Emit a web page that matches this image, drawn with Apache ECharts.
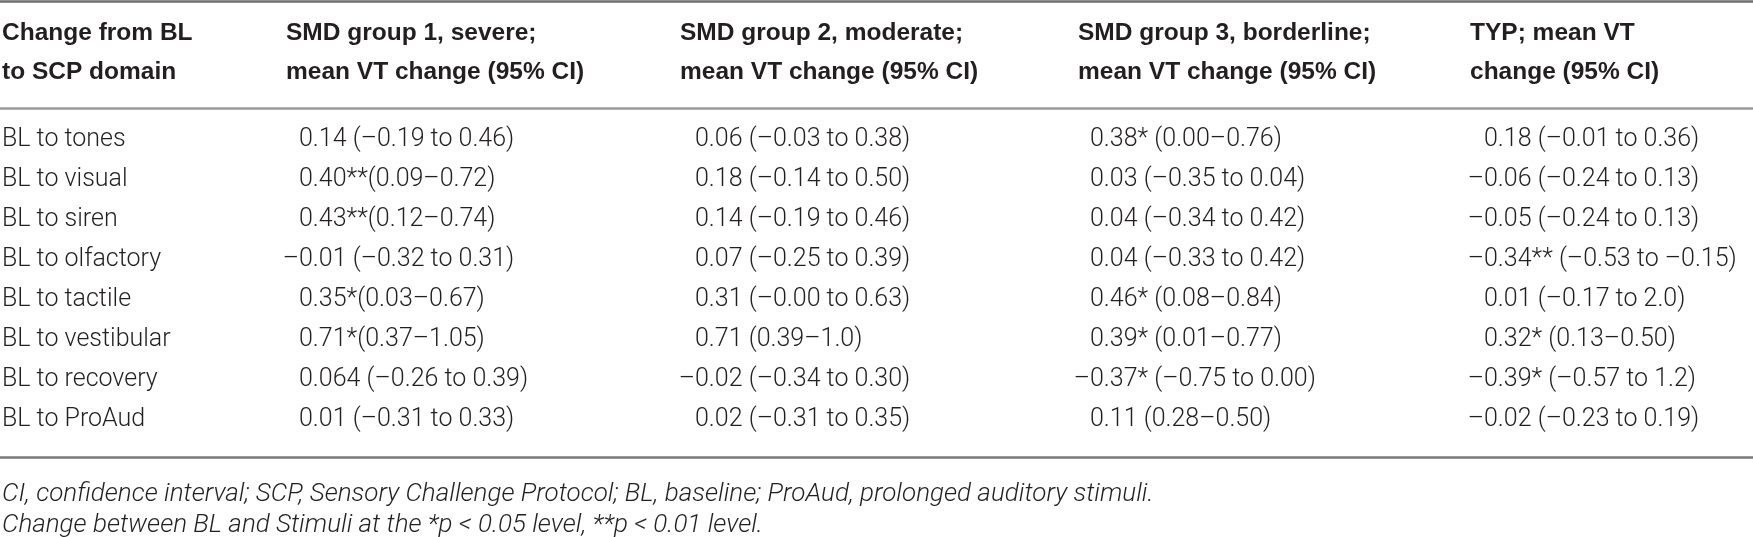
<!DOCTYPE html>
<html>
<head>
<meta charset="utf-8">
<script src="https://cdn.jsdelivr.net/npm/echarts@6/dist/echarts.min.js"></script>
<style>
html, body { margin: 0; padding: 0; background: #fff; }
#main { width: 1753px; height: 537px; }
</style>
</head>
<body>
<div id="main"></div>
<script>
// table content
var headers = [
    ['Change from BL', 'to SCP domain'],
    ['SMD group 1, severe;', 'mean VT change (95% CI)'],
    ['SMD group 2, moderate;', 'mean VT change (95% CI)'],
    ['SMD group 3, borderline;', 'mean VT change (95% CI)'],
    ['TYP; mean VT', 'change (95% CI)']
];
var domains = ['BL to tones', 'BL to visual', 'BL to siren', 'BL to olfactory',
    'BL to tactile', 'BL to vestibular', 'BL to recovery', 'BL to ProAud'];
var group1 = ['0.14 (–0.19 to 0.46)', '0.40**(0.09–0.72)', '0.43**(0.12–0.74)', '–0.01 (–0.32 to 0.31)',
    '0.35*(0.03–0.67)', '0.71*(0.37–1.05)', '0.064 (–0.26 to 0.39)', '0.01 (–0.31 to 0.33)'];
var group2 = ['0.06 (–0.03 to 0.38)', '0.18 (–0.14 to 0.50)', '0.14 (–0.19 to 0.46)', '0.07 (–0.25 to 0.39)',
    '0.31 (–0.00 to 0.63)', '0.71 (0.39–1.0)', '–0.02 (–0.34 to 0.30)', '0.02 (–0.31 to 0.35)'];
var group3 = ['0.38* (0.00–0.76)', '0.03 (–0.35 to 0.04)', '0.04 (–0.34 to 0.42)', '0.04 (–0.33 to 0.42)',
    '0.46* (0.08–0.84)', '0.39* (0.01–0.77)', '–0.37* (–0.75 to 0.00)', '0.11 (0.28–0.50)'];
var typ = ['0.18 (–0.01 to 0.36)', '–0.06 (–0.24 to 0.13)', '–0.05 (–0.24 to 0.13)', '–0.34** (–0.53 to –0.15)',
    '0.01 (–0.17 to 2.0)', '0.32* (0.13–0.50)', '–0.39* (–0.57 to 1.2)', '–0.02 (–0.23 to 0.19)'];
var notes = [
    'CI, confidence interval; SCP, Sensory Challenge Protocol; BL, baseline; ProAud, prolonged auditory stimuli.',
    'Change between BL and Stimuli at the *p < 0.05 level, **p < 0.01 level.'
];

// layout (pixels)
var W = 1753, H = 537;
var headX = [2, 286, 680, 1078, 1470];
var cellX = [2, 299, 695, 1090, 1484];
var headY = [33, 72];
var rowY0 = 140, rowGap = 39.9;
var noteY = [494, 525];
var rules = [{ y: 1.5, color: '#6e6e6e' }, { y: 108.5, color: '#9a9a9a' }, { y: 457, color: '#7a7a7a' }];

var headFont = 'bold 24.5px "Liberation Sans", Arial, sans-serif';
var bodyFont = '300 25px Roboto, "Liberation Sans", sans-serif';
var noteFont = 'italic 300 26px Roboto, "Liberation Sans", sans-serif';

var ctx = document.createElement('canvas').getContext('2d');
ctx.font = bodyFont;
var dashW = ctx.measureText('–').width;

var cells = [];
for (var c = 0; c < headers.length; c++) {
    for (var l = 0; l < 2; l++) {
        cells.push({ x: headX[c], y: headY[l], text: headers[c][l], font: headFont });
    }
}
var columns = [domains, group1, group2, group3, typ];
for (var c = 0; c < columns.length; c++) {
    for (var i = 0; i < columns[c].length; i++) {
        var t = columns[c][i];
        var x = cellX[c];
        if (c > 0 && t.charAt(0) === '–') x -= dashW;
        cells.push({ x: x, y: rowY0 + i * rowGap, text: t, font: bodyFont });
    }
}
for (var n = 0; n < notes.length; n++) {
    cells.push({ x: 2, y: noteY[n], text: notes[n], font: noteFont });
}

var myChart = echarts.init(document.getElementById('main'));
var option = {
    animation: false,
    grid: { left: 0, right: 0, top: 0, bottom: 0 },
    xAxis: { type: 'value', min: 0, max: W, show: false },
    yAxis: { type: 'value', min: 0, max: H, inverse: true, show: false },
    series: [{
        type: 'custom',
        silent: true,
        data: cells.map(function (d) { return [d.x, d.y]; }),
        renderItem: function (params, api) {
            var d = cells[params.dataIndex];
            var p = api.coord([api.value(0), api.value(1)]);
            return {
                type: 'text',
                x: p[0],
                y: p[1],
                style: {
                    text: d.text,
                    font: d.font,
                    fill: '#231f20',
                    align: 'left',
                    verticalAlign: 'middle'
                }
            };
        },
        markLine: {
            silent: true,
            symbol: 'none',
            label: { show: false },
            data: rules.map(function (r) {
                return { yAxis: r.y, lineStyle: { color: r.color, width: 2.5, type: 'solid' } };
            })
        }
    }]
};
myChart.setOption(option);
</script>
</body>
</html>
